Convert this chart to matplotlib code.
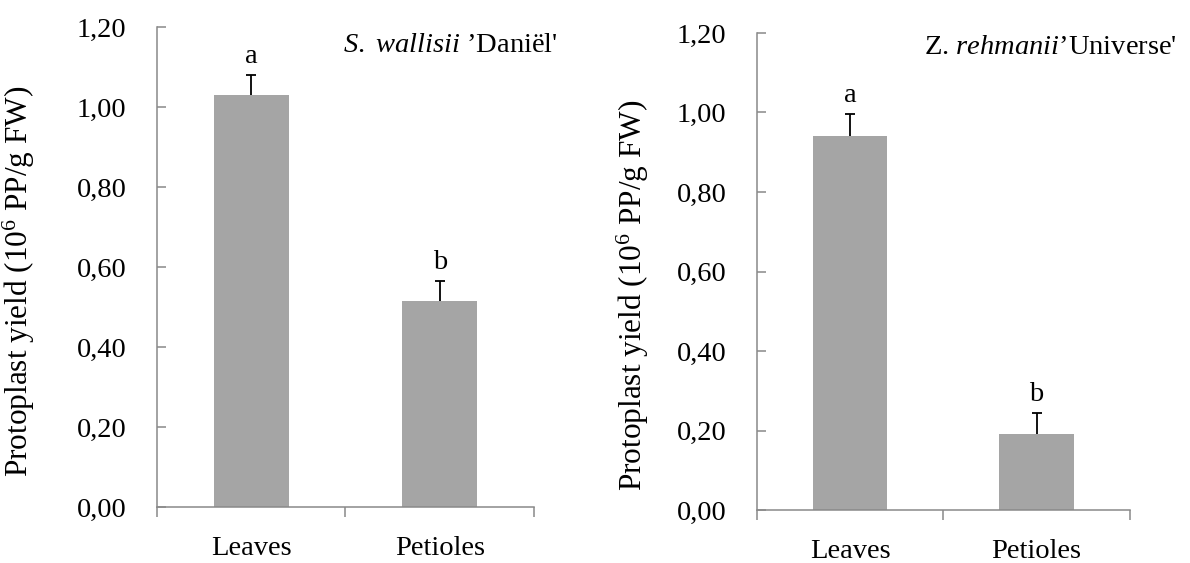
import matplotlib
matplotlib.use("Agg")
import matplotlib.pyplot as plt
from matplotlib.ticker import FixedLocator, FuncFormatter

plt.rcParams["font.family"] = ["Liberation Serif", "DejaVu Serif"]
plt.rcParams["mathtext.fontset"] = "custom"
plt.rcParams["mathtext.rm"] = "Liberation Serif"
plt.rcParams["mathtext.it"] = "Liberation Serif:italic"

# data
categories = ["Leaves", "Petioles"]
daniel_mean = [1.03, 0.515]
daniel_err = [0.05, 0.05]
universe_mean = [0.94, 0.19]
universe_err = [0.056, 0.055]
letters = ["a", "b"]
titles = [r"$\mathit{S.\ wallisii}$ ’Daniël'", r"Z. $\mathit{rehmanii}$’Universe'"]
yticks = [0.0, 0.2, 0.4, 0.6, 0.8, 1.0, 1.2]

BAR = "#a5a5a5"
AXC = "#898989"
FS = 20.5

fig = plt.figure(figsize=(11.9, 5.63), dpi=100)
axes = [fig.add_axes([0.1319, 0.0995, 0.3168, 0.8525]),
        fig.add_axes([0.636, 0.0941, 0.3134, 0.8473])]
panels = [(daniel_mean, daniel_err), (universe_mean, universe_err)]
title_pos = [(1.064, 0.9625), (1.126, 0.9686)]
label_pos = [(-0.317, 0.47), (-0.284, 0.45)]

for ax, (mean, err), title, tpos, lpos in zip(axes, panels, titles, title_pos, label_pos):
    x = list(range(len(categories)))
    ax.bar(x, mean, width=0.4, color=BAR, zorder=2)
    eb = ax.errorbar(x, mean, yerr=[[0] * len(err), err], fmt="none", ecolor="black",
                     elinewidth=1.3, capsize=3.3, capthick=1.3, zorder=3)
    eb[1][0].set_visible(False)   # only the upper cap
    for xi, m, e, lt in zip(x, mean, err, letters):
        ax.text(xi, m + e + 0.03, lt, ha="center", va="baseline", fontsize=FS)

    ax.set_xlim(-0.5, 1.5)
    ax.set_ylim(0, 1.2)
    ax.set_xticks(x)
    ax.set_xticklabels(categories, fontsize=FS)
    ax.xaxis.set_minor_locator(FixedLocator([-0.5, 0.5, 1.5]))
    ax.tick_params(axis="x", which="major", length=0, pad=21)
    ax.tick_params(axis="x", which="minor", direction="out", length=7.5,
                   width=1.1, color=AXC)

    ax.set_yticks(yticks)
    ax.yaxis.set_major_formatter(FuncFormatter(lambda v, p: f"{v:.2f}".replace(".", ",")))
    ax.tick_params(axis="y", direction="in", length=6.5, width=1.1, color=AXC,
                   pad=22, labelsize=FS)

    for s in ["top", "right"]:
        ax.spines[s].set_visible(False)
    for s in ["left", "bottom"]:
        ax.spines[s].set_color(AXC)
        ax.spines[s].set_linewidth(1.1)

    ax.set_ylabel(r"Protoplast yield (10$^{6}$ PP/g FW)", fontsize=22.5)
    ax.yaxis.set_label_coords(*lpos)
    ax.text(tpos[0], tpos[1], title, transform=ax.transAxes, ha="right",
            va="center", fontsize=FS)

fig.savefig("out.png", dpi=100)
